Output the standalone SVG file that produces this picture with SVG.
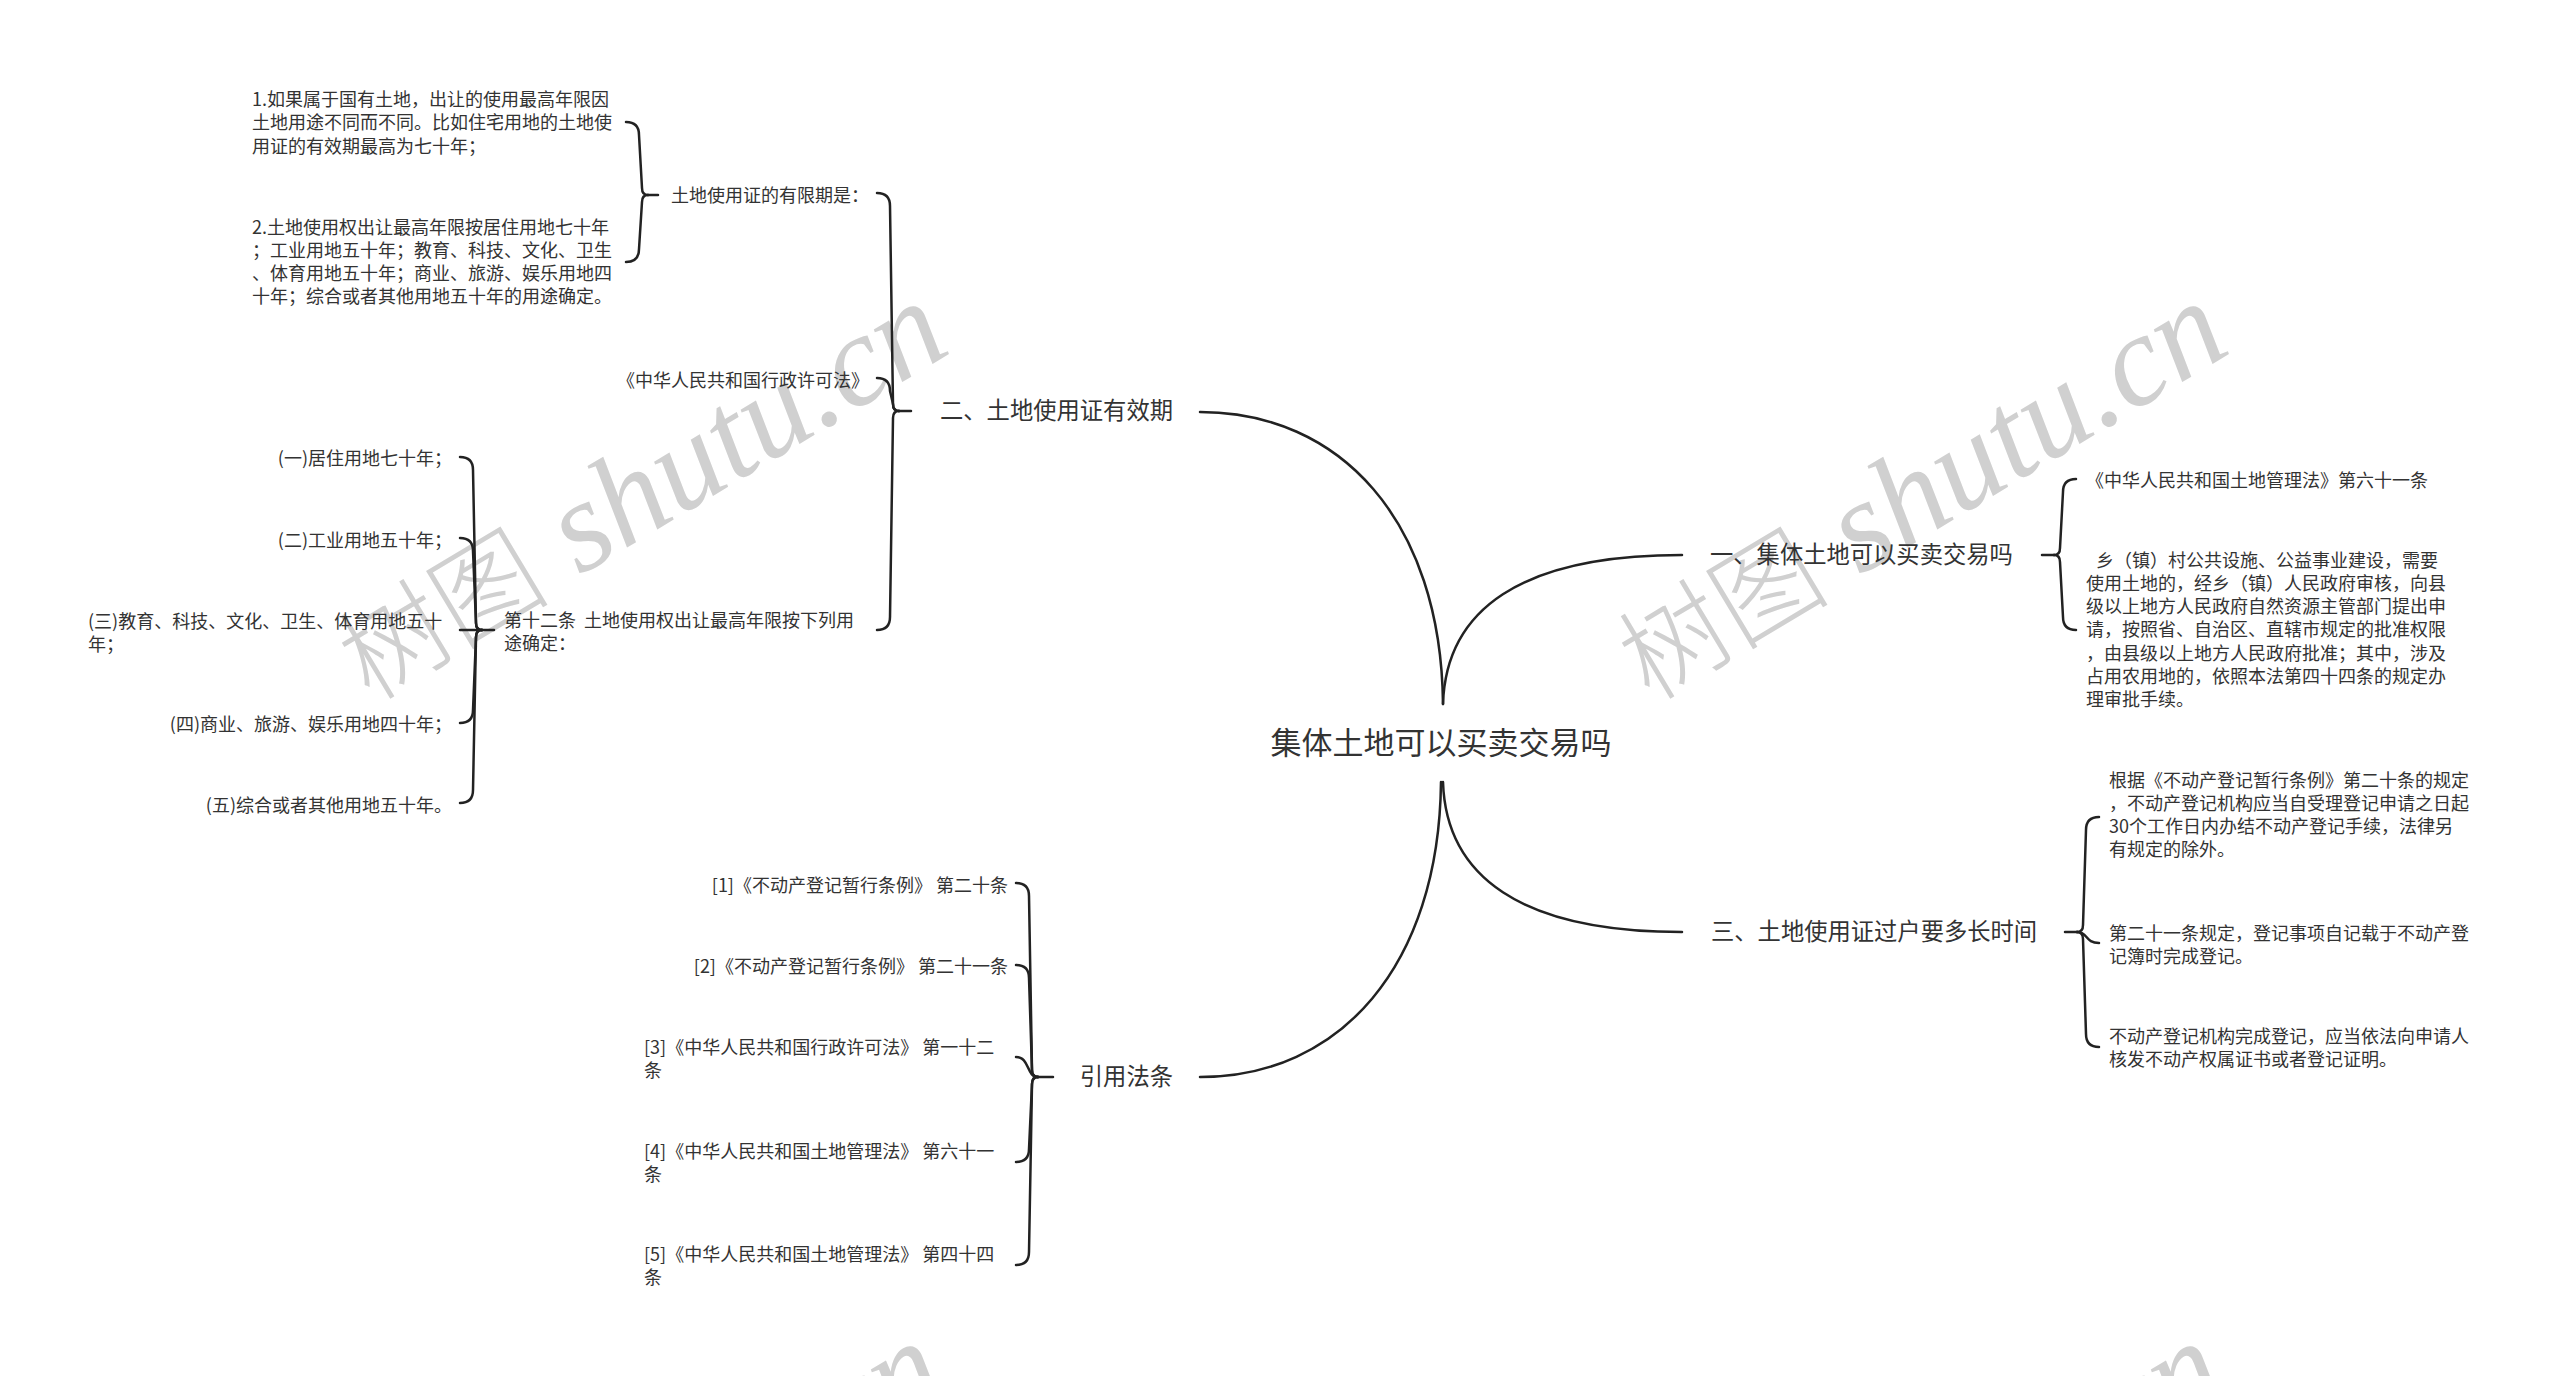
<svg xmlns="http://www.w3.org/2000/svg" width="2560" height="1376" viewBox="0 0 2560 1376">
<style>
.t{font-family:'Noto Sans CJK SC','Noto Sans',sans-serif;fill:#333}
.leaf{font-size:18px}
.branch{font-size:23.3px}
.root{font-size:31px}
.e{text-anchor:end}
.m{text-anchor:middle}
.conn{fill:none;stroke:#222;stroke-width:2.5;stroke-linecap:round;stroke-linejoin:round}
.wm{font-family:'Liberation Serif','Noto Sans CJK SC',serif;fill:#d0d0d0}
.wmc{font-family:'Noto Sans CJK SC',sans-serif;font-size:106px;font-weight:300}
.wml{font-style:italic;font-size:130px}
</style>
<rect width="2560" height="1376" fill="#fff"/>
<g id="watermarks">
<text class="wm" transform="translate(370,702) rotate(-31)"><tspan class="wmc">树图</tspan><tspan class="wml"> shutu.cn</tspan></text>
<text class="wm" transform="translate(1650,702) rotate(-31)"><tspan class="wmc">树图</tspan><tspan class="wml"> shutu.cn</tspan></text>
<text class="wm" transform="translate(367,1742) rotate(-31)"><tspan class="wmc">树图</tspan><tspan class="wml"> shutu.cn</tspan></text>
<text class="wm" transform="translate(1647,1742) rotate(-31)"><tspan class="wmc">树图</tspan><tspan class="wml"> shutu.cn</tspan></text>
</g>
<g id="connectors">
<path class="conn" d="M1443,704 C1441,520 1340,412 1200,412"/>
<path class="conn" d="M1443,704 C1446,610 1520,555 1682,555"/>
<path class="conn" d="M1443,782 C1446,876 1520,932 1682,932"/>
<path class="conn" d="M1441,782 C1439,966 1340,1077 1200,1077"/>
<path class="conn" d="M877,193 Q890,193 890,206 L893,404 Q893,411 899,411"/>
<path class="conn" d="M877,378 Q890,378 890,391 L893,404 Q893,411 899,411"/>
<path class="conn" d="M877,630 Q890,630 890,617 L893,418 Q893,411 899,411"/>
<path class="conn" d="M899,411 L911,411"/>
<path class="conn" d="M626,122 Q639,122 639,135 L642,188 Q642,195 648,195"/>
<path class="conn" d="M626,262 Q639,262 639,249 L642,202 Q642,195 648,195"/>
<path class="conn" d="M648,195 L658,195"/>
<path class="conn" d="M460,457 Q473,457 473,470 L476,623 Q476,630 482,630"/>
<path class="conn" d="M460,538 Q473,538 473,551 L476,623 Q476,630 482,630"/>
<path class="conn" d="M460,630 L482,630"/>
<path class="conn" d="M460,723 Q473,723 473,710 L476,637 Q476,630 482,630"/>
<path class="conn" d="M460,803 Q473,803 473,790 L476,637 Q476,630 482,630"/>
<path class="conn" d="M482,630 L494,630"/>
<path class="conn" d="M1016,883 Q1029,883 1029,896 L1032,1070 Q1032,1077 1038,1077"/>
<path class="conn" d="M1016,965 Q1029,965 1029,978 L1032,1070 Q1032,1077 1038,1077"/>
<path class="conn" d="M1016,1057 C1030,1057 1026,1077 1038,1077"/>
<path class="conn" d="M1016,1162 Q1029,1162 1029,1149 L1032,1084 Q1032,1077 1038,1077"/>
<path class="conn" d="M1016,1265 Q1029,1265 1029,1252 L1032,1084 Q1032,1077 1038,1077"/>
<path class="conn" d="M1038,1077 L1053,1077"/>
<path class="conn" d="M2076,479 Q2063,479 2063,492 L2060,548 Q2060,555 2054,555"/>
<path class="conn" d="M2076,630 Q2063,630 2063,617 L2060,562 Q2060,555 2054,555"/>
<path class="conn" d="M2054,555 L2042,555"/>
<path class="conn" d="M2099,817 Q2086,817 2086,830 L2083,925 Q2083,932 2077,932"/>
<path class="conn" d="M2099,943 C2085,943 2088,932 2077,932"/>
<path class="conn" d="M2099,1047 Q2086,1047 2086,1034 L2083,939 Q2083,932 2077,932"/>
<path class="conn" d="M2077,932 L2065,932"/>
</g>
<g id="root"><text class="t root m" x="1441" y="754">集体土地可以买卖交易吗</text></g>
<g id="b2"><text class="t branch e" x="1173" y="419">二、土地使用证有效期</text></g>
<g id="b1"><text class="t branch" x="1710" y="563">一、集体土地可以买卖交易吗</text></g>
<g id="b3"><text class="t branch" x="1711" y="940">三、土地使用证过户要多长时间</text></g>
<g id="b4"><text class="t branch e" x="1173" y="1085">引用法条</text></g>
<g id="n-youxianqi"><text class="t leaf e" x="869" y="201.5">土地使用证的有限期是：</text></g>
<g id="n-yxq1"><text class="t leaf" x="252" y="106"><tspan x="252">1.如果属于国有土地，出让的使用最高年限因</tspan><tspan x="252" dy="23.3">土地用途不同而不同。比如住宅用地的土地使</tspan><tspan x="252" dy="23.3">用证的有效期最高为七十年；</tspan></text></g>
<g id="n-yxq2"><text class="t leaf" x="252" y="233.5"><tspan x="252">2.土地使用权出让最高年限按居住用地七十年</tspan><tspan x="252" dy="23.3">；工业用地五十年；教育、科技、文化、卫生</tspan><tspan x="252" dy="23.3">、体育用地五十年；商业、旅游、娱乐用地四</tspan><tspan x="252" dy="23.3">十年；综合或者其他用地五十年的用途确定。</tspan></text></g>
<g id="n-xzxkf"><text class="t leaf e" x="869" y="386.5">《中华人民共和国行政许可法》</text></g>
<g id="n-d12t"><text class="t leaf" x="504" y="626.5" xml:space="preserve"><tspan x="504">第十二条  土地使用权出让最高年限按下列用</tspan><tspan x="504" dy="23.3">途确定：</tspan></text></g>
<g id="n-c1"><text class="t leaf e" x="452" y="464.5">(一)居住用地七十年；</text></g>
<g id="n-c2"><text class="t leaf e" x="452" y="546.5">(二)工业用地五十年；</text></g>
<g id="n-c3"><text class="t leaf" x="88" y="628"><tspan x="88">(三)教育、科技、文化、卫生、体育用地五十</tspan><tspan x="88" dy="23.3">年；</tspan></text></g>
<g id="n-c4"><text class="t leaf e" x="452" y="730.5">(四)商业、旅游、娱乐用地四十年；</text></g>
<g id="n-c5"><text class="t leaf e" x="452" y="811.5">(五)综合或者其他用地五十年。</text></g>
<g id="n-r1"><text class="t leaf e" x="1008" y="891.5">[1]《不动产登记暂行条例》 第二十条</text></g>
<g id="n-r2"><text class="t leaf e" x="1008" y="972.5">[2]《不动产登记暂行条例》 第二十一条</text></g>
<g id="n-r3"><text class="t leaf" x="644" y="1053.5"><tspan x="644">[3]《中华人民共和国行政许可法》 第一十二</tspan><tspan x="644" dy="23.3">条</tspan></text></g>
<g id="n-r4"><text class="t leaf" x="644" y="1157.5"><tspan x="644">[4]《中华人民共和国土地管理法》 第六十一</tspan><tspan x="644" dy="23.3">条</tspan></text></g>
<g id="n-r5"><text class="t leaf" x="644" y="1261"><tspan x="644">[5]《中华人民共和国土地管理法》 第四十四</tspan><tspan x="644" dy="23.3">条</tspan></text></g>
<g id="n-tdglf"><text class="t leaf" x="2086" y="486.5">《中华人民共和国土地管理法》第六十一条</text></g>
<g id="n-xiang"><text class="t leaf" x="2086" y="566.5"><tspan x="2096">乡（镇）村公共设施、公益事业建设，需要</tspan><tspan x="2086" dy="23.3">使用土地的，经乡（镇）人民政府审核，向县</tspan><tspan x="2086" dy="23.3">级以上地方人民政府自然资源主管部门提出申</tspan><tspan x="2086" dy="23.3">请，按照省、自治区、直辖市规定的批准权限</tspan><tspan x="2086" dy="23.3">，由县级以上地方人民政府批准；其中，涉及</tspan><tspan x="2086" dy="23.3">占用农用地的，依照本法第四十四条的规定办</tspan><tspan x="2086" dy="23.3">理审批手续。</tspan></text></g>
<g id="n-p1"><text class="t leaf" x="2109" y="786.5"><tspan x="2109">根据《不动产登记暂行条例》第二十条的规定</tspan><tspan x="2109" dy="23.3">，不动产登记机构应当自受理登记申请之日起</tspan><tspan x="2109" dy="23.3">30个工作日内办结不动产登记手续，法律另</tspan><tspan x="2109" dy="23.3">有规定的除外。</tspan></text></g>
<g id="n-p2"><text class="t leaf" x="2109" y="939.5"><tspan x="2109">第二十一条规定，登记事项自记载于不动产登</tspan><tspan x="2109" dy="23.3">记簿时完成登记。</tspan></text></g>
<g id="n-p3"><text class="t leaf" x="2109" y="1042.5"><tspan x="2109">不动产登记机构完成登记，应当依法向申请人</tspan><tspan x="2109" dy="23.3">核发不动产权属证书或者登记证明。</tspan></text></g>
</svg>
